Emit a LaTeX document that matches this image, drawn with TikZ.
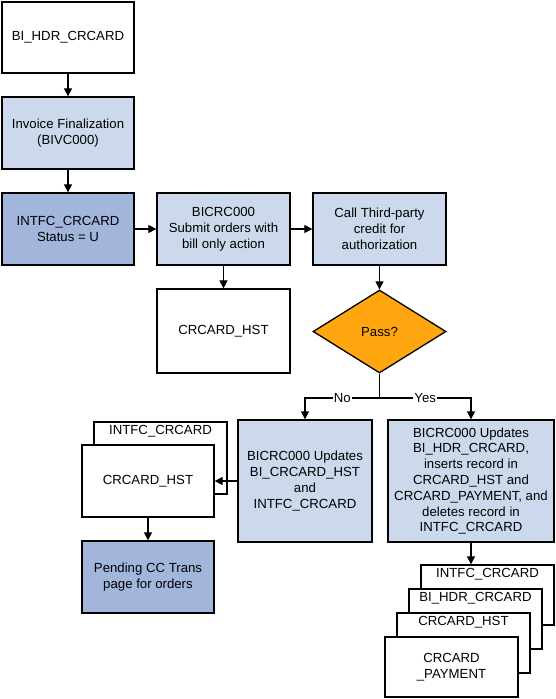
\documentclass[tikz,border=0pt]{standalone}
\usepackage{fontspec}
\setmainfont{Liberation Sans}
\usetikzlibrary{arrows.meta,shapes.geometric}
\definecolor{lightbl}{RGB}{204,217,236}
\definecolor{darkbl}{RGB}{162,182,220}
\definecolor{passor}{RGB}{255,166,16}
\begin{document}
\begin{tikzpicture}[x=1pt,y=-1pt,
  box/.style={draw, line width=1.3pt, rectangle, inner sep=0pt, align=center, font=\fontsize{13.2}{15.8}\selectfont},
  lt/.style={box, fill=lightbl},
  dk/.style={box, fill=darkbl},
  wt/.style={box, fill=white},
  arr/.style={line width=1.1pt, -{Triangle[length=8pt,width=8pt]}},
  lbl/.style={inner sep=1pt, font=\fontsize{13.2}{15.8}\selectfont},
  edgelbl/.style={lbl, fill=white}]
\useasboundingbox (0,0) rectangle (555,699);

% top column
\node[wt, minimum width=132pt, minimum height=71pt] (b1) at (68,37.5) {BI\_HDR\_CRCARD};
\node[lt, minimum width=132pt, minimum height=72pt] (b2) at (68,133) {Invoice Finalization\\(BIVC000)};
\node[dk, minimum width=132pt, minimum height=72pt] (b3) at (68,229) {INTFC\_CRCARD\\Status = U};
\node[lt, minimum width=133pt, minimum height=72pt] (b4) at (223.5,229) {BICRC000\\Submit orders with\\bill only action};
\node[lt, minimum width=133pt, minimum height=72pt] (b5) at (379.5,229) {Call Third-party\\credit for\\authorization};
\node[wt, minimum width=133pt, minimum height=84pt] (hst) at (223.5,331) {CRCARD\_HST};
\node[diamond, draw, fill=passor, line width=1.3pt, inner sep=0pt, minimum width=133pt, minimum height=83pt, font=\fontsize{13.2}{15.8}\selectfont] (pass) at (379.5,331.5) {Pass?};

% update boxes
\node[lt, minimum width=134pt, minimum height=122pt] (lu) at (305,481) {BICRC000 Updates\\BI\_CRCARD\_HST\\and\\INTFC\_CRCARD};
\node[lt, minimum width=166pt, minimum height=122pt] (ru) at (471,481) {BICRC000 Updates\\BI\_HDR\_CRCARD,\\inserts record in\\CRCARD\_HST and\\CRCARD\_PAYMENT, and\\deletes record in\\INTFC\_CRCARD};

% left stack
\node[wt, minimum width=133pt, minimum height=72pt] (lback) at (160.5,458) {};
\node[lbl, anchor=north] (lbackt) at ([yshift=-3pt]lback.north) {INTFC\_CRCARD};
\node[wt, minimum width=132pt, minimum height=72pt] (lfront) at (148,481) {CRCARD\_HST};
\node[dk, minimum width=132pt, minimum height=72pt] (pend) at (148,577) {Pending CC Trans\\page for orders};

% right stack
\node[wt, minimum width=133pt, minimum height=60pt] (r1) at (487.5,595) {};
\node[lbl, anchor=north] (r1t) at ([yshift=-2.5pt]r1.north) {INTFC\_CRCARD};
\node[wt, minimum width=133pt, minimum height=60pt] (r2) at (475.5,619) {};
\node[lbl, anchor=north] (r2t) at ([yshift=-3pt]r2.north) {BI\_HDR\_CRCARD};
\node[wt, minimum width=133pt, minimum height=60pt] (r3) at (463.5,643) {};
\node[lbl, anchor=north] (r3t) at ([yshift=-3pt]r3.north) {CRCARD\_HST};
\node[wt, minimum width=133pt, minimum height=60pt] (r4) at (451.5,667) {CRCARD\\\_PAYMENT};

% connectors
\draw[arr] (b1.south) -- (b2.north);
\draw[arr] (b2.south) -- (b3.north);
\draw[arr] (b3.east) -- (b4.west);
\draw[arr] (b4.east) -- (b5.west);
\draw[arr] (b4.south) -- (hst.north);
\draw[arr] (b5.south) -- (pass.north);
\coordinate (fork) at (379.5,398);
\draw[line width=1.1pt] (pass.south) -- (fork);
\draw[arr] (fork) -| node[edgelbl, pos=0.25] (nolbl) {No} (lu.north);
\draw[arr] (fork) -| node[edgelbl, pos=0.25] (yeslbl) {Yes} (ru.north);
\draw[arr] (lu.west) -- (lfront.east);
\draw[arr] (lfront.south) -- (pend.north);
\draw[arr] (ru.south) -- (ru.south |- r1.north);
\end{tikzpicture}
\end{document}
